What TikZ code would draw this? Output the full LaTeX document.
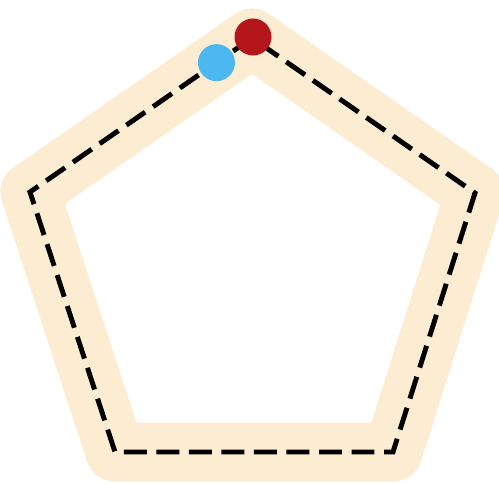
\documentclass[tikz,border=0pt]{standalone}
\usetikzlibrary{calc}
\definecolor{trackbeige}{RGB}{251,236,210}
\definecolor{leaderred}{RGB}{180,22,27}
\definecolor{chaserblue}{RGB}{77,184,240}
\begin{document}
\begin{tikzpicture}[
    track/.style={draw=trackbeige, line width=1.18cm, line join=round},
    route/.style={draw=black, line width=2.8pt, dash pattern=on 13pt off 5.5pt, line join=miter},
    runner/.style={circle, fill=#1, minimum size=0.74cm, inner sep=0pt}
]
\useasboundingbox (0,0) rectangle (9.98,9.66);
% corners of the track
\coordinate (v0) at (5.04,8.90);
\coordinate (v1) at (0.60,5.82);
\coordinate (v2) at (2.30,0.62);
\coordinate (v3) at (7.86,0.62);
\coordinate (v4) at (9.50,5.80);
\draw[track] (v0) -- (v1) -- (v2) -- (v3) -- (v4) -- cycle;
\draw[route] (v0) -- (v1) -- (v2) -- (v3) -- (v4) -- cycle;
\node[runner=leaderred] (leader) at ($(v0)+(0.02,0.02)$) {};
\node[runner=chaserblue] (chaser) at ($(v0)!0.16!(v1)$) {};
\end{tikzpicture}
\end{document}
